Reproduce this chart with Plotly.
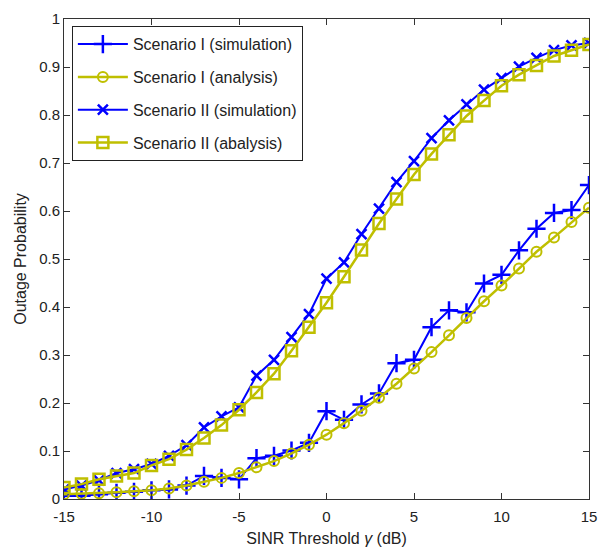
import plotly.graph_objects as go

x = list(range(-15, 16))
xtick_vals = [-15, -10, -5, 0, 5, 10, 15]
xtick_text = ["-15", "-10", "-5", "0", "5", "10", "15"]
ytick_text = ["0", "0.1", "0.2", "0.3", "0.4", "0.5", "0.6", "0.7", "0.8", "0.9", "1"]

s1_sim = [0.007, 0.007, 0.010, 0.013, 0.015, 0.018, 0.020, 0.028, 0.048, 0.044, 0.041,
          0.085, 0.090, 0.101, 0.117, 0.183, 0.165, 0.197, 0.220, 0.283, 0.290,
          0.358, 0.393, 0.389, 0.449, 0.467, 0.518, 0.563, 0.596, 0.602, 0.654]
s1_ana = [0.010, 0.011, 0.012, 0.014, 0.016, 0.018, 0.022, 0.028, 0.036, 0.044, 0.054,
          0.066, 0.079, 0.095, 0.113, 0.134, 0.158, 0.184, 0.211, 0.240, 0.272,
          0.306, 0.341, 0.377, 0.412, 0.445, 0.480, 0.515, 0.545, 0.577, 0.607]
s2_sim = [0.020, 0.028, 0.039, 0.054, 0.062, 0.073, 0.090, 0.112, 0.149, 0.172, 0.191,
          0.257, 0.290, 0.337, 0.385, 0.459, 0.493, 0.552, 0.605, 0.660, 0.704,
          0.752, 0.789, 0.822, 0.853, 0.877, 0.901, 0.919, 0.935, 0.945, 0.950]
s2_ana = [0.024, 0.031, 0.041, 0.048, 0.054, 0.070, 0.083, 0.103, 0.127, 0.154, 0.186,
          0.222, 0.261, 0.309, 0.358, 0.409, 0.463, 0.519, 0.574, 0.625, 0.676,
          0.719, 0.759, 0.798, 0.830, 0.861, 0.884, 0.903, 0.923, 0.935, 0.947]

names = ["Scenario I (simulation)", "Scenario I (analysis)",
         "Scenario II (simulation)", "Scenario II (abalysis)"]

BLUE = "rgb(0,0,255)"
YEL = "rgb(191,191,0)"

fig = go.Figure()
fig.add_trace(go.Scatter(x=x, y=s1_sim, name=names[0], mode="lines+markers", legendgroup="a",
                         line=dict(color=BLUE, width=2),
                         marker=dict(symbol="cross-thin-open", size=13,
                                     line=dict(color=BLUE, width=2.5), color=BLUE)))
fig.add_trace(go.Scatter(x=x, y=s1_ana, name=names[1], mode="lines+markers", legendgroup="b",
                         line=dict(color=YEL, width=2.5),
                         marker=dict(symbol="circle-open", size=10,
                                     line=dict(color=YEL, width=2), color=YEL)))
fig.add_trace(go.Scatter(x=x, y=s2_sim, name=names[2], mode="lines+markers", legendgroup="c",
                         line=dict(color=BLUE, width=2),
                         marker=dict(symbol="x-thin-open", size=10,
                                     line=dict(color=BLUE, width=2.5), color=BLUE)))
fig.add_trace(go.Scatter(x=x, y=s2_ana, name=names[3], mode="lines+markers", legendgroup="d",
                         line=dict(color=YEL, width=2.5),
                         marker=dict(symbol="square-open", size=11,
                                     line=dict(color=YEL, width=2.5), color=YEL)))

axis_common = dict(showgrid=False, zeroline=False, showline=True, mirror="ticks",
                   linecolor="#333", linewidth=1, ticks="inside", ticklen=6,
                   tickcolor="#333", tickfont=dict(size=15, color="#222"))

fig.update_layout(
    width=605, height=552,
    margin=dict(l=64, r=8, t=19, b=52),
    paper_bgcolor="white", plot_bgcolor="white",
    font=dict(family="Liberation Sans, Arial, sans-serif", color="#222"),
    xaxis=dict(range=[-15, 15], tickvals=xtick_vals, ticktext=xtick_text,
               ticklabelstandoff=4, ticklabeloverflow="allow",
               title=dict(text="SINR Threshold <i>γ</i> (dB)", font=dict(size=16), standoff=8),
               **axis_common),
    yaxis=dict(range=[0, 1], tickvals=[i / 10 for i in range(11)], ticktext=ytick_text,
               ticklabeloverflow="allow",
               title=dict(text="Outage Probability", font=dict(size=16), standoff=8),
               **axis_common),
    legend=dict(x=0.015, y=0.985, xanchor="left", yanchor="top",
                bgcolor="white", bordercolor="#222", borderwidth=1,
                font=dict(size=16, color="#222"), itemwidth=50,
                tracegroupgap=9),
    showlegend=True,
)

fig.write_html("out.html")
